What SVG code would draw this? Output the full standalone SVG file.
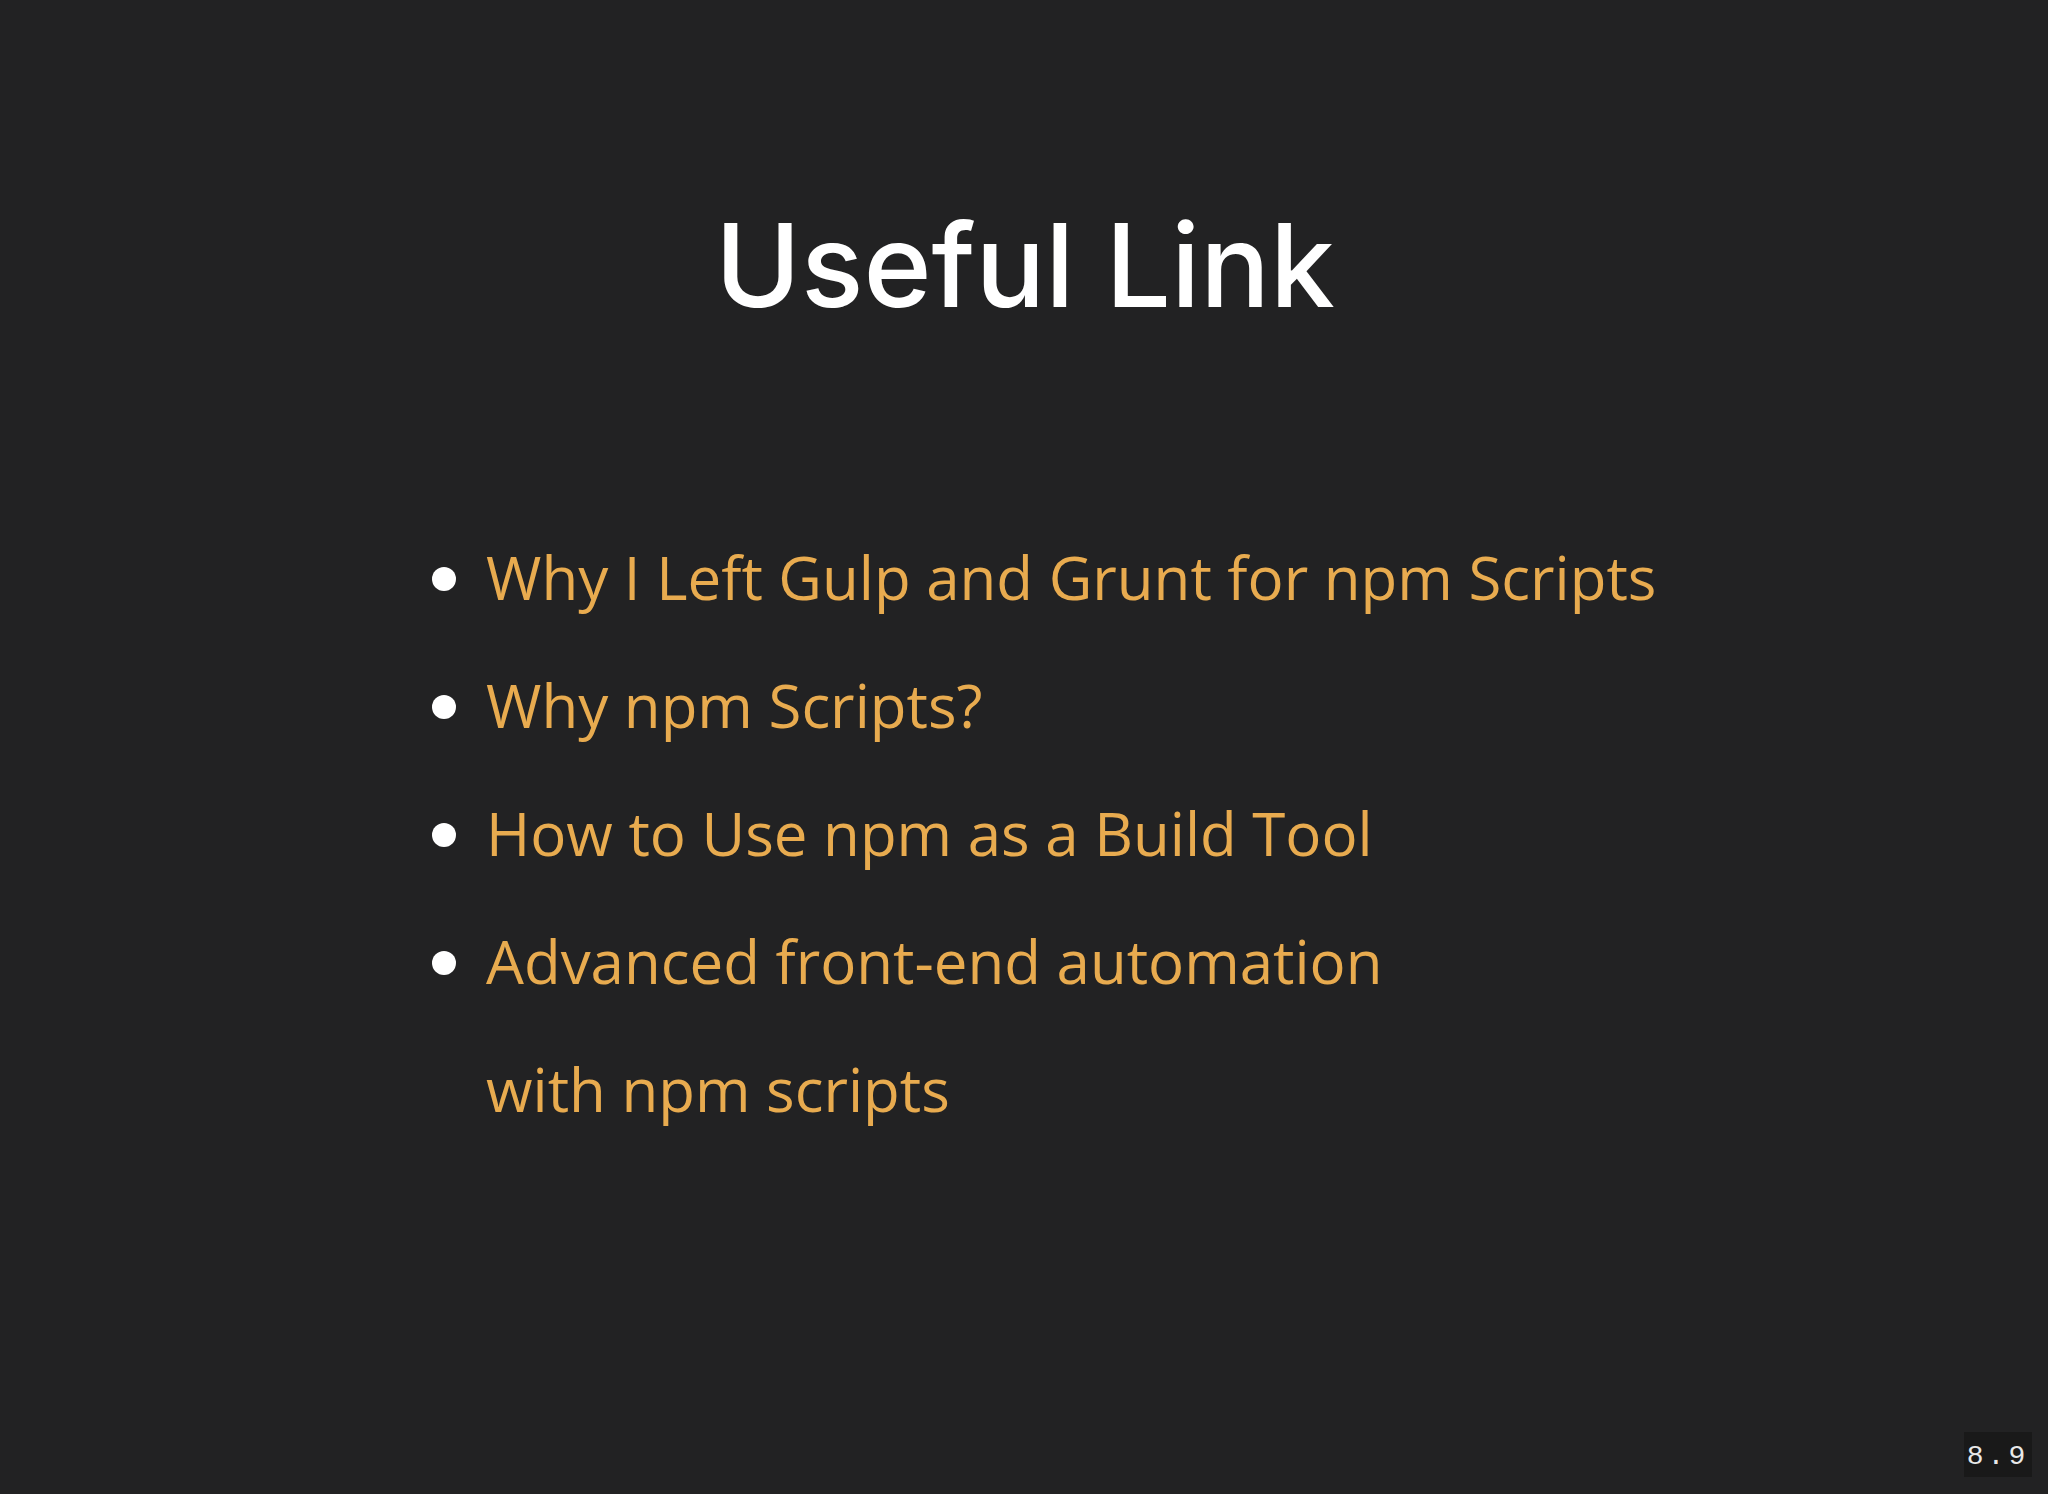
<svg xmlns="http://www.w3.org/2000/svg" width="2048" height="1494" viewBox="0 0 2048 1494">
<style>
.li{font-family:"Open Sans","Liberation Sans",sans-serif;font-size:60px;fill:#e8ab4f}
.b{fill:#ffffff}
</style>
<rect width="2048" height="1494" fill="#222223"/>
<g id="title"><text x="1025" y="307" text-anchor="middle" font-family="Inter,'Open Sans',sans-serif" font-weight="500" font-size="116" fill="#ffffff">Useful Link</text></g>
<g id="item1"><circle class="b" cx="444" cy="579" r="12"/><text class="li" x="486" y="600">Why I Left Gulp and Grunt for npm Scripts</text></g>
<g id="item2"><circle class="b" cx="444" cy="707" r="12"/><text class="li" x="486" y="728">Why npm Scripts?</text></g>
<g id="item3"><circle class="b" cx="444" cy="835" r="12"/><text class="li" x="486" y="856">How to Use npm as a Build Tool</text></g>
<g id="item4"><circle class="b" cx="444" cy="963" r="12"/><text class="li" x="486" y="984">Advanced front-end automation</text><text class="li" x="486" y="1112">with npm scripts</text></g>
<g id="pagenum"><rect x="1964" y="1432" width="68" height="45" fill="#191919"/><text x="1998" y="1464" text-anchor="middle" font-family="'Liberation Mono',monospace" font-size="28" letter-spacing="4" fill="#e8e8e8">8.9</text></g>
</svg>
